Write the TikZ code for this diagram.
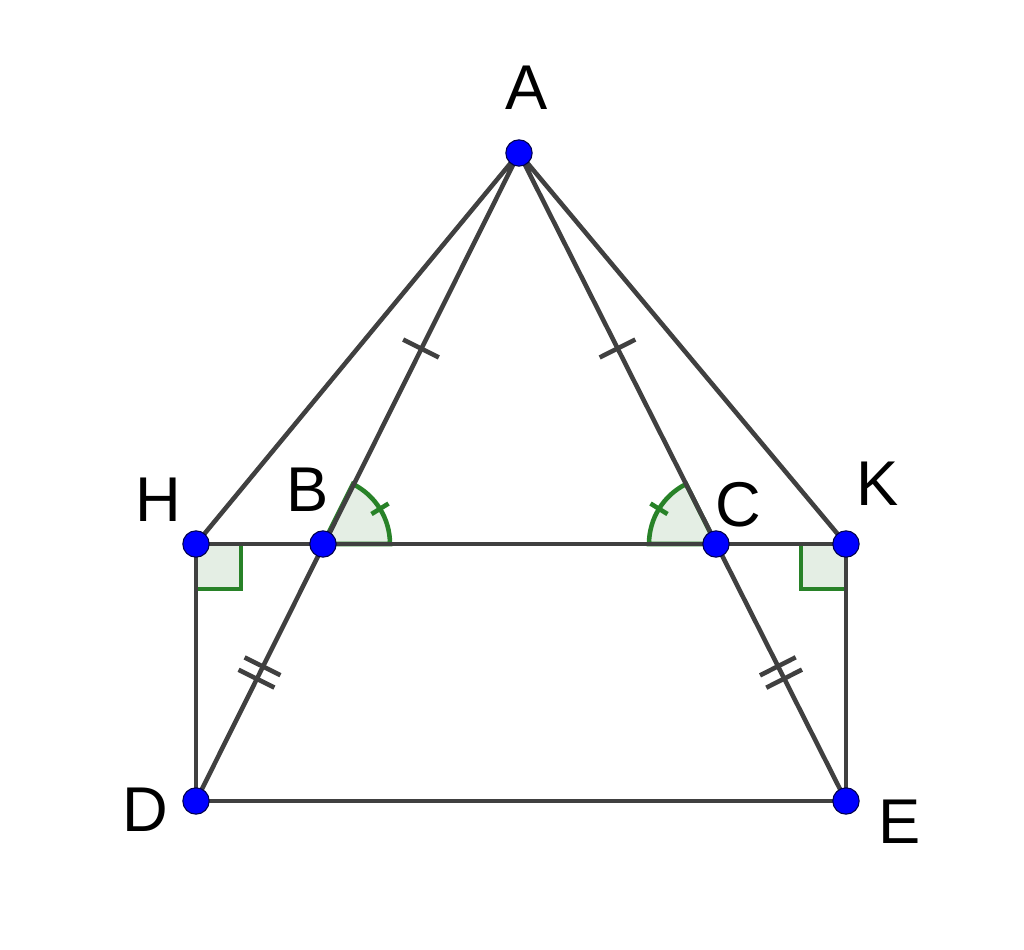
\documentclass[tikz,border=0pt]{standalone}
\usepackage{fontspec}
\setmainfont{Liberation Sans}
\usetikzlibrary{calc}
\definecolor{segcol}{RGB}{64,64,64}
\definecolor{markcol}{RGB}{40,130,40}
\definecolor{markfill}{RGB}{228,238,228}
\tikzset{
  seg/.style={draw=segcol, line width=1.3pt},
  markline/.style={draw=markcol, line width=1.3pt},
  tick/.style={draw=segcol, line width=1.3pt},
  pt/.style={circle, fill=blue, draw=black!70!blue, line width=0.3pt, inner sep=0pt, minimum size=7.5pt},
  lbl/.style={font=\fontsize{18}{20}\selectfont, inner sep=0pt}
}
\begin{document}
\begin{tikzpicture}
\useasboundingbox (0,0) rectangle (10.24,9.49);
\coordinate (A) at (5.19,7.96);
\coordinate (H) at (1.96,4.05);
\coordinate (B) at (3.23,4.05);
\coordinate (C) at (7.16,4.05);
\coordinate (K) at (8.46,4.05);
\coordinate (D) at (1.96,1.48);
\coordinate (E) at (8.46,1.48);
% right angles and equal angles
\path[markline, fill=markfill] (H) rectangle ++(0.45,-0.45);
\path[markline, fill=markfill] (K) rectangle ++(-0.45,-0.45);
\path[markline, fill=markfill] (B) -- ++(0:0.67) arc (0:63.4:0.67) -- cycle;
\path[markline, fill=markfill] (C) -- ++(116.6:0.67) arc (116.6:180:0.67) -- cycle;
\path[markline] ($(B)+(31.7:0.57)$) -- ($(B)+(31.7:0.77)$);
\path[markline] ($(C)+(148.3:0.57)$) -- ($(C)+(148.3:0.77)$);
% segments
\path[seg] (H) -- (K) (H) -- (D) -- (E) -- (K);
\path[seg] (A) -- (H) (A) -- (K) (A) -- (D) (A) -- (E);
% equal sides
\path[tick] ($(A)!0.5!(B)!0.2cm!90:(B)$) -- ($(A)!0.5!(B)!0.2cm!-90:(B)$);
\path[tick] ($(A)!0.5!(C)!0.2cm!90:(C)$) -- ($(A)!0.5!(C)!0.2cm!-90:(C)$);
\foreach \f in {0.476,0.524} {
  \path[tick] ($(B)!\f!(D)!0.2cm!90:(D)$) -- ($(B)!\f!(D)!0.2cm!-90:(D)$);
  \path[tick] ($(C)!\f!(E)!0.2cm!90:(E)$) -- ($(C)!\f!(E)!0.2cm!-90:(E)$);
}
% points
\foreach \p in {A,H,B,C,K,D,E} \node[pt] (p\p) at (\p) {};
% labels
\node[lbl] (lA) at (5.27,8.61) {A};
\node[lbl] (lH) at (1.58,4.49) {H};
\node[lbl] (lB) at (3.08,4.59) {B};
\node[lbl] (lC) at (7.38,4.44) {C};
\node[lbl] (lK) at (8.78,4.65) {K};
\node[lbl] (lD) at (1.45,1.39) {D};
\node[lbl] (lE) at (9.00,1.27) {E};
\end{tikzpicture}
\end{document}
